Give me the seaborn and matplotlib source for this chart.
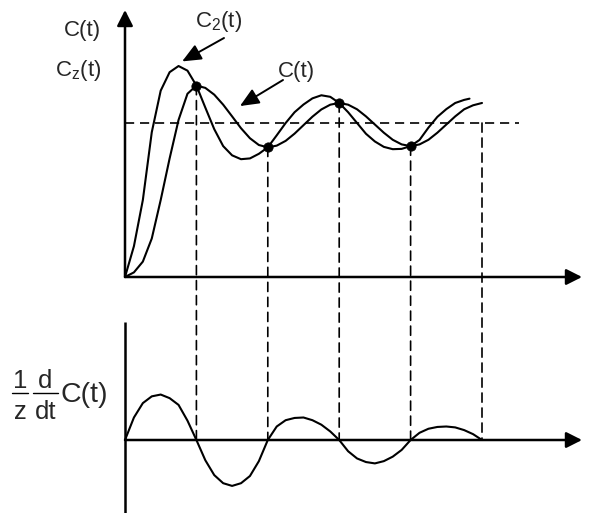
import matplotlib
matplotlib.use("Agg")
import matplotlib.pyplot as plt
import seaborn as sns
from matplotlib.patches import ConnectionPatch
from matplotlib.lines import Line2D

# ---------------- data ----------------
# time axis (arbitrary units; extrema of C(t) at t = 2, 4, 6, 8)
t_c = [i * 0.25 for i in range(41)]
c_vals = [0.00, 0.03, 0.10, 0.25, 0.50, 0.77, 1.02, 1.19, 1.243,
          1.228, 1.184, 1.119, 1.043, 0.966, 0.901, 0.857, 0.842,
          0.853, 0.884, 0.931, 0.986, 1.041, 1.088, 1.119, 1.130,
          1.119, 1.089, 1.043, 0.990, 0.937, 0.891, 0.861, 0.850,
          0.861, 0.891, 0.937, 0.990, 1.043, 1.089, 1.115, 1.130]

t_cz = [i * 0.25 for i in range(39)] + [9.65]
cz_vals = [0.00, 0.20, 0.50, 0.94, 1.21, 1.33, 1.37, 1.34, 1.243,
           1.10, 0.96, 0.85, 0.79, 0.765, 0.77, 0.80, 0.842,
           0.92, 1.00, 1.07, 1.12, 1.16, 1.18, 1.17, 1.13,
           1.07, 1.00, 0.93, 0.88, 0.845, 0.83, 0.832, 0.85,
           0.89, 0.97, 1.04, 1.09, 1.13, 1.15, 1.158]

t_d = [i * 0.25 for i in range(41)]
d_vals = [0.00, 0.50, 0.82, 0.97, 1.01, 0.93, 0.78, 0.43, 0.00,
          -0.45, -0.78, -0.96, -1.02, -0.96, -0.80, -0.47, 0.00,
          0.30, 0.44, 0.49, 0.50, 0.44, 0.34, 0.19, 0.00,
          -0.25, -0.41, -0.49, -0.52, -0.47, -0.37, -0.22, 0.00,
          0.16, 0.25, 0.29, 0.30, 0.28, 0.22, 0.13, 0.00]

dot_t = [2, 4, 6, 8]
dot_c = [1.243, 0.842, 1.130, 0.850]
drop_t = [2, 4, 6, 8, 10]
drop_c = [1.243, 0.842, 1.130, 0.850, 1.0]
steady_value = 1.0

label_c = "C(t)"
label_cz = r"$C_z(t)$"
label_c2 = r"$C_2(t)$"
frac1 = ("1", "z")
frac2 = ("d", "dt")
label_d_tail = "C(t)"

# ---------------- style ----------------
sns.set_theme(style="white")
plt.rcParams["font.family"] = ["Liberation Sans", "DejaVu Sans"]
plt.rcParams["mathtext.fontset"] = "custom"
plt.rcParams["mathtext.rm"] = "Liberation Sans"
plt.rcParams["mathtext.it"] = "Liberation Sans"
plt.rcParams["mathtext.default"] = "regular"

W, H = 593, 513
fig = plt.figure(figsize=(W / 100, H / 100), dpi=100)
fig.patch.set_facecolor("white")

# layout: t=0 at x=125 px, 35.7 px per unit
px_t = 35.7
x0 = 125
ax1 = fig.add_axes([0, (H - 300) / H, 1, 300 / H])
ax2 = fig.add_axes([0, 0, 1, (H - 300) / H])
xlim = (-x0 / px_t, (W - x0) / px_t)
for ax in (ax1, ax2):
    ax.set_xlim(*xlim)
    ax.axis("off")
# upper: C=0 at y=277 px, 154 px per unit
ax1.set_ylim((277 - 300) / 154, 277 / 154)
# lower: D=0 at y=440 px, 45 px per unit
ax2.set_ylim((440 - H) / 45, (440 - 300) / 45)

curve_kw = dict(color="black", linewidth=1.5, estimator=None, sort=False)
sns.lineplot(x=t_cz, y=cz_vals, ax=ax1, **curve_kw)
sns.lineplot(x=t_c, y=c_vals, ax=ax1, **curve_kw)
sns.lineplot(x=t_d, y=d_vals, ax=ax2, **curve_kw)
sns.scatterplot(x=dot_t, y=dot_c, ax=ax1, color="black", s=45,
                edgecolor="black", zorder=5)

dash = (0, (5.5, 3.5))
ax1.hlines(steady_value, 0, (519 - x0) / px_t, colors="black",
           linestyles=dash, linewidth=1.2)
for tt, cc in zip(drop_t, drop_c):
    con = ConnectionPatch(xyA=(tt, cc), coordsA=ax1.transData,
                          xyB=(tt, 0), coordsB=ax2.transData,
                          linestyle=dash, linewidth=1.2, color="black")
    fig.add_artist(con)

# axes with arrows
arrow_kw = dict(arrowstyle="-|>,head_length=0.95,head_width=0.48",
                color="black", lw=1.8, shrinkA=0, shrinkB=0,
                mutation_scale=10)
t_tip = (582 - x0) / px_t
ax1.annotate("", xy=(t_tip, 0), xytext=(0, 0), arrowprops=arrow_kw)
ax1.annotate("", xy=(0, (277 - 10) / 154), xytext=(0, 0), arrowprops=arrow_kw)
ax2.annotate("", xy=(t_tip, 0), xytext=(0, 0), arrowprops=arrow_kw)
ax2.plot([0, 0], [(440 - 322) / 45, (440 - H) / 45], color="black", lw=1.8,
         solid_capstyle="butt")

# labels
fs = 16
fig.text(101 / W, 1 - 36 / H, label_c, ha="right", va="baseline", fontsize=fs)
fig.text(101 / W, 1 - 76 / H, label_cz, ha="right", va="baseline", fontsize=fs)
fig.text(195 / W, 1 - 27 / H, label_c2, ha="left", va="baseline", fontsize=fs)
fig.text(278 / W, 1 - 77 / H, label_c, ha="left", va="baseline", fontsize=fs)

# lower-axis label: 1/z * d/dt C(t), built from stacked text
fsd = 18.5
for (num, den), (xl, xr) in zip((frac1, frac2), ((12, 28), (33, 58))):
    xc = (xl + xr) / 2
    fig.text(xc / W, 1 - 388 / H, num, ha="center", va="baseline", fontsize=fsd)
    fig.text(xc / W, 1 - 419 / H, den, ha="center", va="baseline", fontsize=fsd)
    fig.add_artist(Line2D([xl / W, xr / W], [1 - 393 / H, 1 - 393 / H],
                          transform=fig.transFigure, color="black", lw=1.0))
fig.text(60 / W, 1 - 402 / H, label_d_tail, ha="left", va="baseline",
         fontsize=20.5)

lab_arrow = dict(arrowstyle="-|>,head_length=1.15,head_width=0.5",
                 color="black", lw=1.4, shrinkA=0, shrinkB=0,
                 mutation_scale=10)
ax1.annotate("", xy=(1.6, 1.40), xytext=(224, H - 38),
             textcoords="figure pixels", arrowprops=lab_arrow)
ax1.annotate("", xy=(3.22, 1.11), xytext=(283, H - 80),
             textcoords="figure pixels", arrowprops=lab_arrow)

fig.savefig("out.png", dpi=100, facecolor="white")
